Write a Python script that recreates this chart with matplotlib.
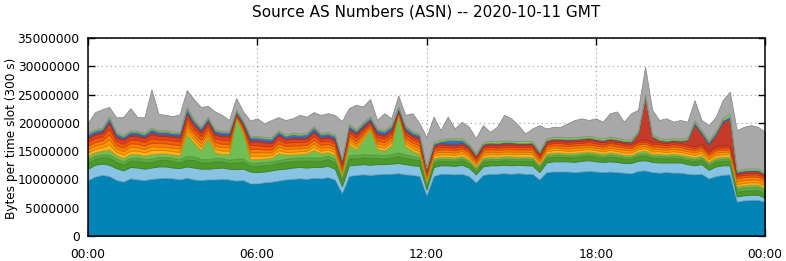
import numpy as np
import matplotlib.pyplot as plt
from matplotlib.colors import to_rgb

# 15 minute samples over the day, values in millions of bytes per 300 s slot
hours = np.arange(97) * 0.25

as_main = [9.9,10.5,10.8,10.6,9.9,9.6,10.2,10.0,9.9,10.1,10.2,10.3,10.2,10.0,10.3,10.0,9.9,10.0,10.0,10.1,10.0,9.8,9.9,9.3,
           9.3,9.5,9.6,9.8,10.0,10.1,10.2,10.1,10.3,10.2,10.4,10.0,7.6,10.6,10.8,10.9,10.8,10.9,11.0,11.0,11.1,10.9,10.8,10.6,
           7.2,10.6,11.0,11.0,10.9,11.0,10.6,9.5,10.8,11.0,11.0,11.1,11.0,11.1,11.0,11.0,10.0,11.3,11.4,11.4,11.4,11.3,11.4,11.5,
           11.4,11.3,11.4,11.3,11.2,11.1,11.5,11.6,11.3,11.2,11.3,11.2,11.2,11.0,10.9,11.0,10.2,10.6,10.8,10.9,6.1,6.3,6.4,6.4,
           6.0]
as_lightblue = [2.0,2.1,2.0,2.0,2.1,2.0,2.0,2.1,2.0,2.0,2.1,2.0,1.9,2.0,2.0,2.1,2.0,1.9,2.0,2.0,1.9,2.0,2.0,2.1,
                2.0,1.9,2.0,2.0,1.9,2.0,2.0,2.0,1.9,2.0,2.0,1.9,1.2,1.9,1.8,1.8,1.8,1.8,1.7,1.8,1.8,1.8,1.7,1.8,
                1.0,1.6,1.5,1.5,1.5,1.6,1.5,1.4,1.5,1.5,1.5,1.5,1.5,1.5,1.5,1.5,1.3,1.7,1.8,1.8,1.8,1.8,1.9,1.9,
                1.8,1.8,1.8,1.8,1.7,1.8,1.8,1.8,1.8,1.8,1.7,1.8,1.8,1.7,1.6,1.7,1.5,1.7,1.7,1.6,0.9,0.9,0.9,0.9,
                0.8]
as_darkgreen = [1.1,1.0,1.1,1.2,1.1,1.0,1.1,1.2,1.1,1.0,1.1,1.2,1.1,1.0,1.2,1.3,1.1,1.1,1.2,1.1,1.0,1.2,1.2,1.0,
                1.1,1.1,1.0,1.1,1.2,1.1,1.1,1.2,1.1,1.1,1.2,1.1,1.0,1.2,1.1,1.2,1.2,1.1,1.0,1.1,1.2,1.1,1.1,1.0,
                0.7,0.8,0.8,0.7,0.8,0.8,0.7,0.6,0.8,0.8,0.7,0.8,0.8,0.7,0.8,0.8,0.7,0.8,0.8,0.8,0.7,0.8,0.8,0.8,
                0.8,0.7,0.8,0.8,0.7,0.7,0.8,0.8,0.7,0.8,0.7,0.8,0.7,0.7,0.7,0.8,0.7,0.8,0.8,0.8,0.8,0.8,0.8,0.8,
                0.7]
as_green = [0.6,0.6,0.5,0.6,0.6,0.6,0.5,0.6,0.6,0.6,0.6,0.5,0.6,0.6,0.7,0.7,0.6,0.6,0.6,0.6,0.6,0.7,0.6,0.5,
            0.6,0.6,0.6,0.5,0.6,0.6,0.6,0.6,0.6,0.6,0.6,0.6,0.5,0.6,0.6,0.6,0.6,0.6,0.6,0.6,0.7,0.6,0.6,0.5,
            0.35,0.4,0.35,0.4,0.35,0.4,0.35,0.35,0.4,0.35,0.4,0.35,0.4,0.35,0.4,0.35,0.35,0.4,0.35,0.4,0.35,0.4,0.35,0.4,
            0.4,0.35,0.4,0.35,0.4,0.35,0.4,0.4,0.35,0.4,0.35,0.4,0.35,0.4,0.35,0.4,0.35,0.4,0.35,0.4,0.6,0.6,0.6,0.6,
            0.6]
as_lightgreen = [0.6,0.6,0.7,0.9,0.6,0.6,0.7,0.6,0.6,0.8,0.6,0.6,0.6,0.7,3.8,2.4,1.6,3.7,1.0,0.7,1.0,7.2,4.5,0.7,
                 0.6,0.6,0.6,1.2,0.7,0.6,0.6,0.7,1.3,0.7,0.6,0.7,0.5,1.9,1.0,2.5,4.4,1.0,0.8,1.5,6.7,1.5,0.8,0.6,
                 0.4,0.4,0.35,0.4,0.35,0.35,0.4,0.35,0.35,0.4,0.35,0.35,0.4,0.35,0.35,0.35,0.3,0.35,0.4,0.35,0.35,0.4,0.35,0.35,
                 0.35,0.35,0.4,0.35,0.35,0.35,0.4,0.5,0.35,0.35,0.35,0.35,0.35,0.35,0.35,0.35,0.35,0.35,0.35,0.35,0.4,0.4,0.4,0.4,
                 0.4]
as_yellow = [0.6,0.6,0.6,0.9,0.6,0.6,0.6,0.6,0.6,0.7,0.6,0.6,0.6,0.6,0.6,0.6,0.6,0.5,0.6,0.6,0.6,0.15,0.3,0.6,
             0.6,0.5,0.5,0.6,0.5,0.5,0.5,0.5,0.6,0.5,0.5,0.5,0.4,0.5,0.5,0.4,0.3,0.5,0.5,0.5,0.15,0.5,0.5,0.5,
             0.4,0.45,0.45,0.45,0.45,0.45,0.45,0.4,0.45,0.45,0.45,0.45,0.45,0.45,0.45,0.45,0.4,0.45,0.45,0.45,0.45,0.45,0.45,0.45,
             0.45,0.45,0.45,0.45,0.45,0.45,0.45,0.45,0.45,0.45,0.45,0.45,0.45,0.45,0.45,0.45,0.45,0.45,0.45,0.45,0.4,0.4,0.4,0.4,
             0.4]
as_orange = [0.6,0.6,0.6,0.9,0.6,0.6,0.7,0.6,0.6,0.7,0.6,0.6,0.6,0.6,0.7,0.6,0.6,0.5,0.6,0.6,0.6,0.15,0.3,0.6,
             0.6,0.6,0.5,0.6,0.5,0.6,0.5,0.5,0.6,0.5,0.5,0.5,0.4,0.5,0.5,0.4,0.3,0.5,0.5,0.5,0.15,0.5,0.5,0.5,
             0.4,0.4,0.45,0.4,0.4,0.45,0.4,0.35,0.4,0.45,0.4,0.4,0.4,0.45,0.4,0.4,0.35,0.4,0.45,0.4,0.4,0.45,0.4,0.4,
             0.4,0.45,0.4,0.4,0.45,0.4,0.4,0.4,0.45,0.4,0.4,0.45,0.4,0.4,0.4,0.45,0.4,0.4,0.45,0.4,0.5,0.5,0.5,0.5,
             0.5]
as_darkorange = [0.6,0.6,0.6,0.9,0.6,0.6,0.6,0.6,0.6,0.6,0.6,0.6,0.6,0.6,0.7,0.6,0.6,0.6,0.6,0.6,0.6,0.15,0.3,0.6,
                 0.6,0.5,0.5,0.6,0.5,0.5,0.5,0.5,0.6,0.5,0.5,0.5,0.4,0.5,0.5,0.4,0.3,0.5,0.5,0.5,0.15,0.5,0.5,0.5,
                 0.4,0.4,0.4,0.45,0.4,0.4,0.4,0.35,0.4,0.4,0.45,0.4,0.4,0.4,0.4,0.45,0.35,0.4,0.4,0.4,0.45,0.4,0.4,0.4,
                 0.4,0.4,0.45,0.4,0.4,0.4,0.45,0.4,0.4,0.4,0.4,0.4,0.45,0.4,0.4,0.4,0.4,0.45,0.4,0.4,0.5,0.5,0.5,0.5,
                 0.5]
as_orangered = [0.7,0.7,0.7,1.0,0.7,0.7,0.7,0.7,0.7,0.8,0.7,0.7,0.7,0.7,0.8,0.7,0.7,0.6,0.7,0.7,0.7,0.15,0.3,0.7,
                0.7,0.6,0.6,0.7,0.6,0.6,0.6,0.6,0.7,0.6,0.6,0.6,0.5,0.6,0.6,0.5,0.3,0.6,0.6,0.6,0.15,0.6,0.6,0.6,
                0.4,0.4,0.45,0.4,0.45,0.4,0.4,0.35,0.4,0.4,0.4,0.45,0.4,0.4,0.4,0.4,0.35,0.4,0.4,0.45,0.4,0.4,0.4,0.45,
                0.4,0.4,0.4,0.45,0.4,0.4,0.4,0.4,0.4,0.45,0.4,0.4,0.4,0.4,0.4,0.4,0.4,0.4,0.4,0.4,0.4,0.4,0.4,0.4,
                0.4]
as_red = [0.6,0.6,0.6,0.9,0.6,0.6,0.6,0.6,0.6,0.7,0.6,0.6,0.6,0.6,0.7,0.6,0.6,0.6,0.6,0.6,0.6,0.15,0.3,0.6,
          0.6,0.6,0.5,0.6,0.5,0.6,0.5,0.5,0.6,0.5,0.5,0.5,0.4,0.5,0.5,0.4,0.3,0.5,0.5,0.5,0.15,0.5,0.5,0.5,
          0.35,0.35,0.4,0.35,0.35,0.35,0.35,0.3,0.35,0.35,0.35,0.35,0.4,0.35,0.35,0.35,0.3,0.35,0.35,0.35,0.35,0.35,0.4,0.35,
          0.35,0.35,0.35,0.35,0.35,0.35,0.35,0.35,0.35,0.35,0.35,0.35,0.35,0.35,0.35,0.35,0.35,0.35,0.35,0.35,0.3,0.3,0.3,0.3,
          0.3]
as_darkred = [0.3,0.3,0.3,0.4,0.3,0.3,0.3,0.3,0.3,0.4,0.3,0.3,0.3,0.3,0.4,0.3,0.3,0.3,0.3,0.3,0.3,0.15,0.2,0.3,
              0.3,0.3,0.3,0.3,0.3,0.3,0.3,0.3,0.3,0.3,0.3,0.3,0.3,0.3,0.3,0.3,0.2,0.3,0.3,0.3,0.15,0.3,0.3,0.3,
              0.2,0.3,0.3,0.3,0.3,0.3,0.3,0.25,0.3,0.3,0.3,0.3,0.3,0.3,0.3,0.3,0.25,0.3,0.3,0.3,0.3,0.3,0.3,0.3,
              0.3,0.3,0.3,0.3,0.3,0.3,1.2,7.4,1.0,0.3,0.3,0.3,0.3,0.8,3.8,1.8,1.1,2.0,4.1,4.7,0.3,0.3,0.3,0.3,
              0.3]
as_blue = [0.45,0.45,0.4,0.5,0.45,0.4,0.45,0.45,0.4,0.5,0.45,0.45,0.4,0.45,0.6,0.45,0.45,0.4,0.45,0.45,0.45,0.3,0.3,0.45,
           0.45,0.45,0.5,0.45,0.4,0.5,0.45,0.5,0.55,0.45,0.45,0.5,0.3,0.45,0.4,0.45,0.4,0.5,0.5,0.45,0.3,0.45,0.4,0.4,
           0.2,0.2,0.3,0.6,0.7,0.5,0.2,0.15,0.15,0.12,0.12,0.15,0.12,0.12,0.12,0.15,0.12,0.12,0.12,0.12,0.15,0.12,0.12,0.12,
           0.12,0.12,0.12,0.12,0.12,0.12,0.15,0.2,0.12,0.12,0.12,0.12,0.12,0.15,0.4,0.3,0.4,0.3,0.35,0.4,0.15,0.2,0.15,0.15,
           0.12]
as_lime = [0.25,0.25,0.25,0.3,0.25,0.25,0.25,0.25,0.25,0.3,0.25,0.25,0.25,0.25,0.3,0.25,0.25,0.25,0.25,0.25,0.25,0.2,0.2,0.25,
           0.25,0.25,0.25,0.25,0.25,0.25,0.25,0.25,0.25,0.25,0.25,0.25,0.2,0.25,0.25,0.25,0.25,0.25,0.25,0.25,0.2,0.25,0.25,0.25,
           0.2,0.25,0.3,0.3,0.3,0.3,0.3,0.25,0.3,0.3,0.3,0.3,0.3,0.3,0.3,0.3,0.25,0.3,0.3,0.3,0.3,0.3,0.3,0.3,
           0.3,0.3,0.3,0.3,0.3,0.3,0.3,0.4,0.3,0.3,0.3,0.3,0.3,0.3,0.35,0.3,0.3,0.3,0.4,0.5,0.3,0.3,0.3,0.3,
           0.3]
# top of the whole stack (grey "other" layer fills up to here)
total = [20.0,21.9,22.4,22.8,21.0,21.0,22.6,21.0,21.0,25.9,21.6,21.4,21.2,21.5,25.8,24.2,22.8,23.0,22.0,21.4,20.5,24.4,22.0,20.4,
         20.8,19.9,20.5,21.0,20.5,20.8,21.4,21.1,21.9,21.4,21.7,21.4,20.3,22.6,23.2,22.9,24.2,20.5,21.7,20.8,24.8,21.4,21.7,19.9,
         17.5,21.1,18.7,21.1,19.0,20.2,19.3,17.3,19.6,18.4,19.3,21.4,20.8,19.6,18.1,19.0,19.6,19.0,19.3,19.3,19.9,20.5,20.8,20.5,
         20.8,20.2,21.7,22.0,20.2,21.7,22.3,29.9,22.3,20.5,20.8,20.2,20.5,20.2,24.0,20.5,19.6,21.0,24.0,25.5,18.7,19.3,19.6,19.3,
         18.4]

layers = [as_main, as_lightblue, as_darkgreen, as_green, as_lightgreen, as_yellow, as_orange,
          as_darkorange, as_orangered, as_red, as_darkred, as_blue, as_lime]
colours = ['#0083b5', '#88c3e3', '#4c9a2a', '#5cab3c', '#6fbf55', '#ffb41e', '#ff9a00',
           '#ff7f00', '#f25c05', '#e8401c', '#c63a2a', '#3d6dc3', '#92d14a', '#a8a8a8']

colored = np.sum(np.array(layers), axis=0)
other = np.clip(np.array(total) - colored, 0.1, None)
stack = np.array(layers + [other]) * 1e6

fig = plt.figure(figsize=(7.86, 2.61), dpi=100)
ax = fig.add_axes([88/786, 25/261, 677/786, 198/261])

polys = ax.stackplot(hours, stack, colors=colours, linewidth=0.6)
for p, c in zip(polys, colours):
    p.set_edgecolor(tuple(v * 0.82 for v in to_rgb(c)))

ax.set_xlim(0, 24)
ax.set_ylim(0, 35e6)
yt = np.arange(0, 35e6 + 1, 5e6)
ax.set_yticks(yt)
ax.set_yticklabels(['%d' % v for v in yt])
ax.set_xticks([0, 6, 12, 18, 24])
ax.set_xticklabels(['00:00', '06:00', '12:00', '18:00', '00:00'])

ax.grid(True, linestyle=(0, (1, 3)), color='#999999', linewidth=0.8)
ax.set_axisbelow(True)
ax.tick_params(direction='in', length=5, width=1, top=True, right=True,
               labelsize=8.8, colors='black')
ax.tick_params(axis='y', pad=6)
ax.tick_params(axis='x', pad=9)
for s in ax.spines.values():
    s.set_linewidth(1.1)

fig.text(426/786, 1 - 12/261, 'Source AS Numbers (ASN) -- 2020-10-11 GMT',
         ha='center', va='center', fontsize=11)
fig.text(12/786, 1 - 138/261, 'Bytes per time slot (300 s)', rotation=90,
         ha='center', va='center', fontsize=8.7)

fig.savefig('out.png', dpi=100)
